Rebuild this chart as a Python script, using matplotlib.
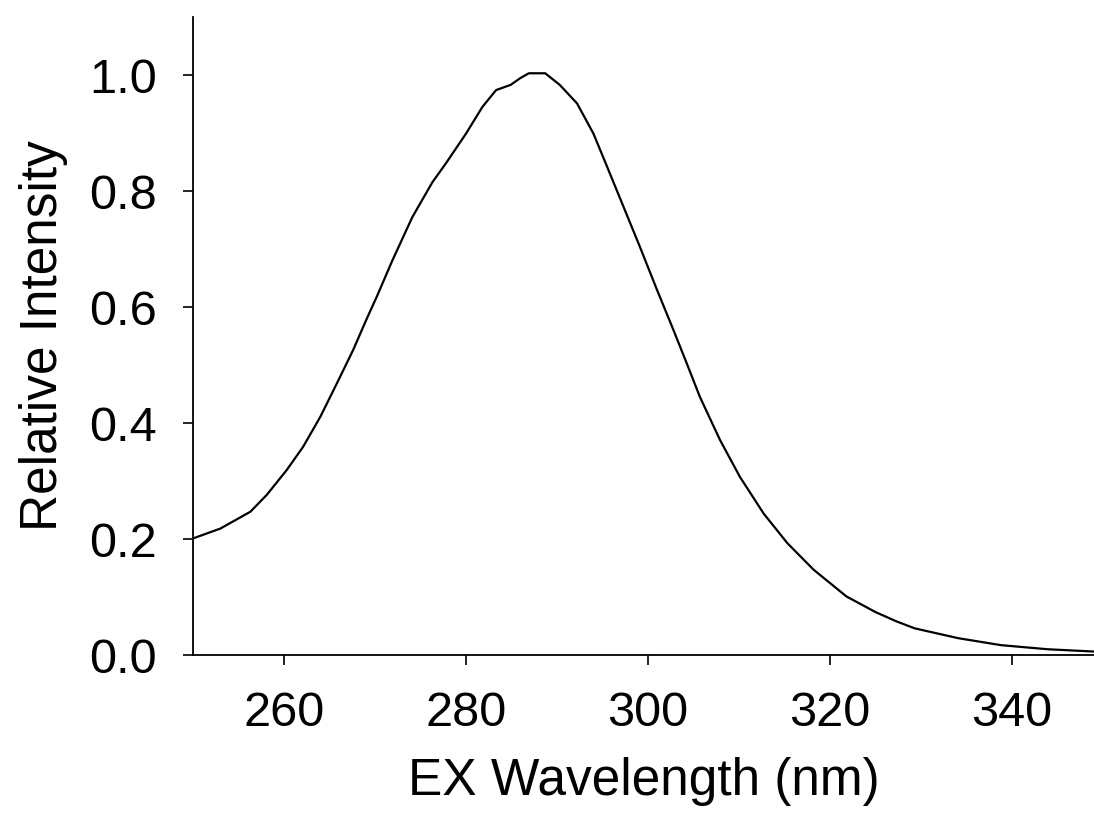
import matplotlib
matplotlib.use("Agg")
import matplotlib.pyplot as plt

# excitation spectrum
wavelength = [250.0, 253.0, 256.3, 258.1, 260.3, 262.1, 264.0, 265.8, 267.6, 269.1,
              270.2, 271.9, 274.1, 276.3, 277.8, 280.0, 281.8, 283.3, 284.9, 286.0,
              286.9, 288.7, 290.3, 292.2, 294.0, 295.5, 297.3, 299.1, 301.0, 302.8,
              304.2, 305.7, 307.9, 310.1, 312.7, 315.3, 318.2, 321.8, 325.0, 327.3,
              329.3, 334.1, 338.8, 343.9, 349.0]
intensity = [0.201, 0.218, 0.247, 0.276, 0.319, 0.359, 0.411, 0.468, 0.526, 0.580,
             0.618, 0.680, 0.755, 0.815, 0.848, 0.899, 0.945, 0.974, 0.983, 0.995,
             1.003, 1.003, 0.983, 0.951, 0.899, 0.842, 0.773, 0.704, 0.629, 0.560,
             0.505, 0.445, 0.371, 0.307, 0.244, 0.193, 0.147, 0.101, 0.074, 0.058,
             0.046, 0.029, 0.017, 0.010, 0.006]

x_ticks = [260, 280, 300, 320, 340]
y_ticks = [0.0, 0.2, 0.4, 0.6, 0.8, 1.0]

plt.rcParams["font.family"] = ["Liberation Sans", "DejaVu Sans"]

fig = plt.figure(figsize=(10.94, 8.30), dpi=100)
ax = fig.add_axes([0.1764, 0.2108, 0.8236, 0.7687])

ax.plot(wavelength, intensity, color="black", linewidth=1.6)

ax.set_xlim(250, 349)
ax.set_ylim(0, 1.1)
ax.set_xticks(x_ticks)
ax.set_yticks(y_ticks)
ax.set_yticklabels([f"{v:.1f}" for v in y_ticks])

for side in ["top", "right"]:
    ax.spines[side].set_visible(False)
for side in ["left", "bottom"]:
    ax.spines[side].set_linewidth(1.3)

ax.tick_params(axis="both", direction="out", length=7, width=1.2,
               labelsize=35, pad=19, colors="black")

ax.set_xlabel("EX Wavelength (nm)", fontsize=37, labelpad=15)
ax.set_ylabel("Relative Intensity", fontsize=37, labelpad=15)

fig.savefig("out.png", dpi=100, facecolor="white")
